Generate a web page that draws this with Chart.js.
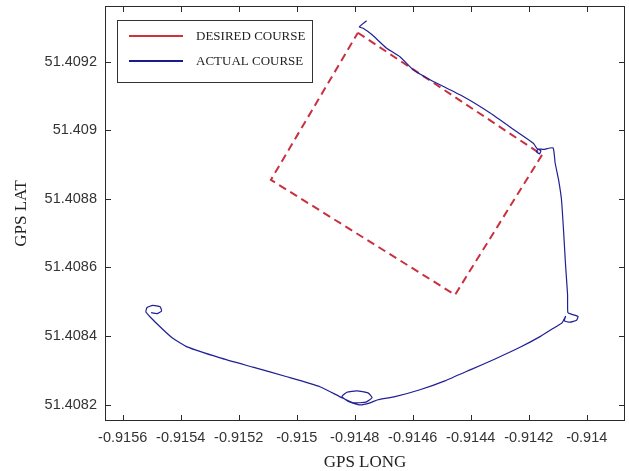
<!DOCTYPE html>
<html>
<head>
<meta charset="utf-8">
<script src="https://cdn.jsdelivr.net/npm/chart.js@4"></script>
<style>
  html, body { margin: 0; padding: 0; background: #fff; }
</style>
</head>
<body>
<canvas id="courseChart" width="629" height="471"></canvas>
<script>
// Desired course: rectangle corners (closed)
const desiredLong = [-0.914789, -0.914154, -0.914454, -0.915089, -0.914789];
const desiredLat = [51.409284, 51.408928, 51.408520, 51.408855, 51.409284];

// Actual course as logged by GPS
const actualLong = [
    -0.914759, -0.914784, -0.914771, -0.914740, -0.914690, -0.914644, -0.914598, -0.914540, -0.914426, -0.914333, -0.914242, -0.914184,
    -0.914172, -0.914158, -0.914163, -0.914173, -0.914168, -0.914149, -0.914116,
    -0.914109, -0.914097, -0.914087, -0.914080, -0.914073, -0.914066, -0.914065,
    -0.914051, -0.914030, -0.914035, -0.914058, -0.914077, -0.914073, -0.914085,
    -0.914106, -0.914161, -0.914230, -0.914316, -0.914402, -0.914489, -0.914575, -0.914661,
    -0.914720, -0.914747, -0.914782, -0.914820, -0.914844, -0.914827, -0.914792, -0.914754, -0.914740, -0.914761, -0.914802, -0.914844,
    -0.914920, -0.915034, -0.915151, -0.915264, -0.915378, -0.915427, -0.915464, -0.915506,
    -0.915520, -0.915516, -0.915496, -0.915471, -0.915466, -0.915482, -0.915502
];
const actualLat = [
    51.409319, 51.409301, 51.409297, 51.409278, 51.409239, 51.409214, 51.409176, 51.409147, 51.409098, 51.409050, 51.408996, 51.408962,
    51.408947, 51.408940, 51.408931, 51.408937, 51.408945, 51.408944, 51.408948,
    51.408905, 51.408855, 51.408797, 51.408709, 51.408607, 51.408520, 51.408468,
    51.408463, 51.408457, 51.408446, 51.408440, 51.408444, 51.408457, 51.408438,
    51.408427, 51.408398, 51.408367, 51.408333, 51.408301, 51.408269, 51.408243, 51.408223,
    51.408214, 51.408205, 51.408199, 51.408208, 51.408223, 51.408236, 51.408240, 51.408234, 51.408220, 51.408207, 51.408205, 51.408220,
    51.408252, 51.408281, 51.408309, 51.408336, 51.408368, 51.408393, 51.408421, 51.408456,
    51.408470, 51.408483, 51.408489, 51.408485, 51.408473, 51.408465, 51.408468
];

// Axis ticks and limits
const longTicks = [-0.9156, -0.9154, -0.9152, -0.915, -0.9148, -0.9146, -0.9144, -0.9142, -0.914];
const latTicks = [51.4082, 51.4084, 51.4086, 51.4088, 51.409, 51.4092];
const longRange = [-0.915661, -0.913868];
const latRange = [51.408152, 51.409362];

const toPoints = (xs, ys) => xs.map((x, i) => ({ x: x, y: ys[i] }));

// Box around the plot with inward tick marks (MATLAB style)
const framePlugin = {
    id: 'frame',
    afterDatasetsDraw(chart) {
        const { ctx, chartArea: a, scales } = chart;
        ctx.save();
        ctx.strokeStyle = '#2a2a2a';
        ctx.lineWidth = 1;
        ctx.beginPath();
        scales.x.ticks.forEach(t => {
            const px = Math.round(scales.x.getPixelForValue(t.value)) + 0.5;
            ctx.moveTo(px, a.bottom); ctx.lineTo(px, a.bottom - 6);
            ctx.moveTo(px, a.top); ctx.lineTo(px, a.top + 6);
        });
        scales.y.ticks.forEach(t => {
            const py = Math.round(scales.y.getPixelForValue(t.value)) + 0.5;
            ctx.moveTo(a.left, py); ctx.lineTo(a.left + 6, py);
            ctx.moveTo(a.right, py); ctx.lineTo(a.right - 6, py);
        });
        ctx.stroke();
        ctx.strokeRect(a.left + 0.5, a.top + 0.5, a.right - a.left - 1, a.bottom - a.top - 1);
        ctx.restore();
    }
};

// Legend box inside the top-left corner
const boxLegend = {
    id: 'boxLegend',
    afterDraw(chart) {
        const { ctx, chartArea: a } = chart;
        const x0 = a.left + 12, y0 = a.top + 14, w = 195, h = 62;
        ctx.save();
        ctx.fillStyle = '#fff';
        ctx.fillRect(x0, y0, w, h);
        ctx.strokeStyle = '#333';
        ctx.lineWidth = 1;
        ctx.strokeRect(x0 + 0.5, y0 + 0.5, w, h);
        ctx.font = '13px "Liberation Serif", "Times New Roman", serif';
        ctx.textBaseline = 'middle';
        chart.data.datasets.forEach((ds, i) => {
            const y = y0 + 16 + i * 25;
            ctx.strokeStyle = ds.legendColor;
            ctx.lineWidth = 2;
            ctx.beginPath();
            ctx.moveTo(x0 + 12, y);
            ctx.lineTo(x0 + 66, y);
            ctx.stroke();
            ctx.fillStyle = '#222';
            ctx.fillText(ds.label, x0 + 79, y + 1);
        });
        ctx.restore();
    }
};

const ctx = document.getElementById('courseChart').getContext('2d');
new Chart(ctx, {
    type: 'scatter',
    data: {
        datasets: [
            {
                label: 'DESIRED COURSE',
                data: toPoints(desiredLong, desiredLat),
                showLine: true,
                borderColor: '#c9303f',
                legendColor: '#cf3338',
                borderWidth: 2,
                borderDash: [8, 5],
                pointRadius: 0,
                order: 1
            },
            {
                label: 'ACTUAL COURSE',
                data: toPoints(actualLong, actualLat),
                showLine: true,
                borderColor: '#1f1f96',
                legendColor: '#1a1a8c',
                borderWidth: 1.2,
                tension: 0.15,
                pointRadius: 0,
                order: 0
            }
        ]
    },
    options: {
        responsive: false,
        animation: false,
        layout: { padding: { top: 6, right: 4, left: 0, bottom: 0 } },
        plugins: {
            legend: { display: false },
            tooltip: { enabled: false }
        },
        scales: {
            x: {
                type: 'linear',
                min: longRange[0],
                max: longRange[1],
                afterBuildTicks: scale => { scale.ticks = longTicks.map(v => ({ value: v })); },
                afterFit: scale => { scale.height = 50; scale.paddingLeft = 0; scale.paddingRight = 0; },
                grid: { display: false, drawTicks: false },
                border: { display: false },
                ticks: {
                    padding: 8,
                    maxRotation: 0,
                    color: '#333',
                    font: { family: '"Liberation Sans", Arial, sans-serif', size: 14.5 },
                    callback: v => String(Number(v.toFixed(4)))
                },
                title: {
                    display: true,
                    text: 'GPS LONG',
                    color: '#222',
                    padding: { top: 0, bottom: 0 },
                    font: { family: '"Liberation Serif", "Times New Roman", serif', size: 17, lineHeight: 1 }
                }
            },
            y: {
                type: 'linear',
                min: latRange[0],
                max: latRange[1],
                afterBuildTicks: scale => { scale.ticks = latTicks.map(v => ({ value: v })); },
                afterFit: scale => { scale.width = 105; scale.paddingTop = 0; scale.paddingBottom = 0; },
                grid: { display: false, drawTicks: false },
                border: { display: false },
                ticks: {
                    padding: 8,
                    color: '#333',
                    font: { family: '"Liberation Sans", Arial, sans-serif', size: 14.5 },
                    callback: v => String(Number(v.toFixed(4)))
                },
                title: {
                    display: true,
                    text: 'GPS LAT',
                    color: '#222',
                    padding: { top: 13, bottom: 0 },
                    font: { family: '"Liberation Serif", "Times New Roman", serif', size: 17, lineHeight: 1 }
                }
            }
        }
    },
    plugins: [framePlugin, boxLegend]
});
</script>
</body>
</html>
